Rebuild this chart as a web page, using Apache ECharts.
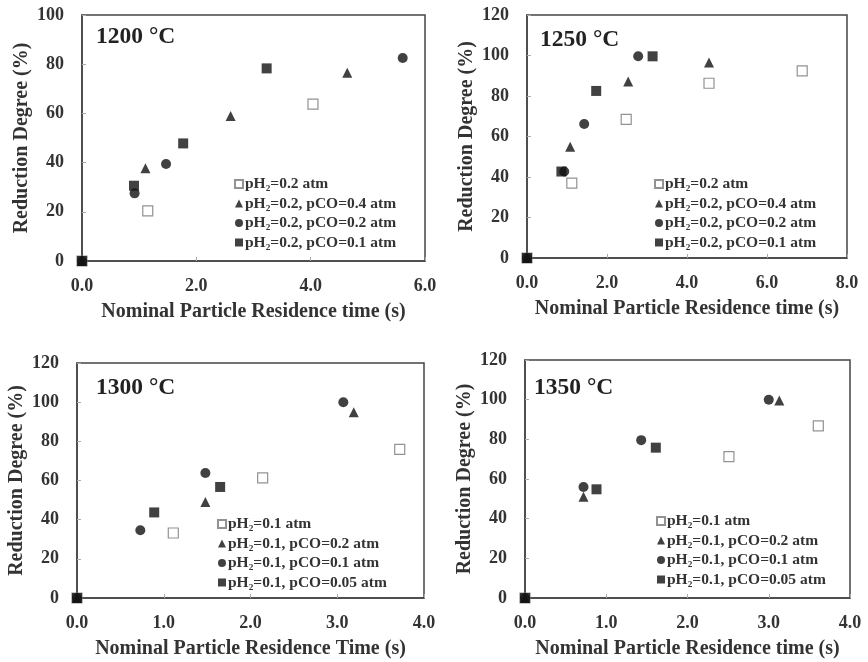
<!DOCTYPE html>
<html>
<head>
<meta charset="utf-8">
<script src="https://cdn.jsdelivr.net/npm/echarts@6/dist/echarts.min.js"></script>
<style>
  html, body { margin: 0; padding: 0; background: #fff; }
  #main { width: 868px; height: 662px; }
</style>
</head>
<body>
<div id="main"></div>
<script>
var chart = echarts.init(document.getElementById('main'));

// panel temperatures
const panelTitles = ['1200 °C', '1250 °C', '1300 °C', '1350 °C'];

// legend names
const namesTop = ['pH₂=0.2 atm', 'pH₂=0.2, pCO=0.4 atm', 'pH₂=0.2, pCO=0.2 atm', 'pH₂=0.2, pCO=0.1 atm'];
const namesBottom = ['pH₂=0.1 atm', 'pH₂=0.1, pCO=0.2 atm', 'pH₂=0.1, pCO=0.1 atm', 'pH₂=0.1, pCO=0.05 atm'];

// 1200 C  [time (s), reduction degree (%)]
const h2_1200 = [[0, 0], [1.15, 20.4], [4.04, 63.8]];
const co04_1200 = [[0, 0], [1.11, 37.7], [2.6, 58.9], [4.64, 76.5]];
const co02_1200 = [[0, 0], [0.92, 27.5], [1.47, 39.4], [5.61, 82.5]];
const co01_1200 = [[0, 0], [0.91, 30.6], [1.77, 47.8], [3.23, 78.3]];

// 1250 C
const h2_1250 = [[0, 0], [1.12, 37], [2.48, 68.5], [4.55, 86.3], [6.88, 92.4]];
const co04_1250 = [[0, 0], [1.08, 55], [2.53, 87.1], [4.55, 96.6]];
const co02_1250 = [[0, 0], [0.93, 42.7], [1.43, 66.2], [2.78, 99.6]];
const co01_1250 = [[0, 0], [0.86, 42.7], [1.73, 82.5], [3.14, 99.6]];

// 1300 C
const h2_1300 = [[0, 0], [1.11, 33.2], [2.14, 61.3], [3.72, 75.9]];
const co02_1300 = [[0, 0], [1.48, 49], [3.19, 94.8]];
const co01_1300 = [[0, 0], [0.73, 34.6], [1.48, 63.8], [3.07, 100]];
const co005_1300 = [[0, 0], [0.89, 43.7], [1.65, 56.7]];

// 1350 C
const h2_1350 = [[0, 0], [2.51, 71.3], [3.61, 86.8]];
const co02_1350 = [[0, 0], [0.72, 51], [3.13, 99.6]];
const co01_1350 = [[0, 0], [0.72, 56], [1.43, 79.6], [3.0, 100]];
const co005_1350 = [[0, 0], [0.88, 54.8], [1.61, 75.8]];

const xMax = [6, 8, 4, 4];
const xStep = [2, 2, 1, 1];
const yMax = [100, 120, 120, 120];
const xNames = ['Nominal Particle Residence time (s)', 'Nominal Particle Residence time (s)',
  'Nominal Particle Residence Time (s)', 'Nominal Particle Residence time (s)'];

const FONT = "'Liberation Serif', 'Times New Roman', serif";
const grids = [
  { left: 82, top: 15, width: 343, height: 246 },
  { left: 527, top: 15, width: 320, height: 243 },
  { left: 77, top: 363, width: 347, height: 235 },
  { left: 525, top: 360, width: 325, height: 238 }
];

const xAxes = grids.map(function (g, i) {
  return {
    gridIndex: i, type: 'value', min: 0, max: xMax[i], interval: xStep[i],
    name: xNames[i], nameLocation: 'middle', nameGap: 41,
    nameTextStyle: { fontFamily: FONT, fontWeight: 'bold', fontSize: 20, color: '#333' },
    axisLine: { lineStyle: { color: '#444', width: 1.5 } },
    axisTick: { inside: true, length: 4, lineStyle: { color: '#aaa' } },
    axisLabel: { margin: 16, fontFamily: FONT, fontWeight: 'bold', fontSize: 18, color: '#333',
      formatter: function (v) { return v.toFixed(1); } },
    splitLine: { show: false }
  };
});

const yAxes = grids.map(function (g, i) {
  return {
    gridIndex: i, type: 'value', min: 0, max: yMax[i], interval: 20,
    name: 'Reduction Degree (%)', nameLocation: 'middle', nameGap: 50, nameRotate: 90,
    nameTextStyle: { fontFamily: FONT, fontWeight: 'bold', fontSize: 20, color: '#333' },
    axisLine: { lineStyle: { color: '#444', width: 1.5 } },
    axisTick: { inside: true, length: 4, lineStyle: { color: '#aaa' } },
    axisLabel: { margin: 18, fontFamily: FONT, fontWeight: 'bold', fontSize: 18, color: '#333' },
    splitLine: { show: false }
  };
});

const openStyle = { symbol: 'rect', symbolSize: 10, itemStyle: { color: '#fff', borderColor: '#777', borderWidth: 1.2 } };
const triStyle = { symbol: 'triangle', symbolSize: 10, itemStyle: { color: '#111' } };
const cirStyle = { symbol: 'circle', symbolSize: 10, itemStyle: { color: '#111' } };
const sqStyle = { symbol: 'rect', symbolSize: 10, itemStyle: { color: '#111' } };
const styles = [openStyle, triStyle, cirStyle, sqStyle];

const panelData = [
  [h2_1200, co04_1200, co02_1200, co01_1200],
  [h2_1250, co04_1250, co02_1250, co01_1250],
  [h2_1300, co02_1300, co01_1300, co005_1300],
  [h2_1350, co02_1350, co01_1350, co005_1350]
];

const series = [];
panelData.forEach(function (sets, p) {
  const names = p < 2 ? namesTop : namesBottom;
  sets.forEach(function (d, k) {
    series.push(Object.assign({
      type: 'scatter', name: names[k], xAxisIndex: p, yAxisIndex: p, data: d, z: 2 + k
    }, styles[k]));
  });
});

const legendPos = [
  { left: 229, top: 171 },
  { left: 649, top: 171 },
  { left: 212, top: 511 },
  { left: 651, top: 508 }
];

const legends = legendPos.map(function (pos, p) {
  return {
    orient: 'vertical', left: pos.left, top: pos.top,
    data: p < 2 ? namesTop : namesBottom,
    itemWidth: 8, itemHeight: 8, itemGap: 3.5,
    selectedMode: false,
    textStyle: { fontFamily: FONT, fontWeight: 'bold', fontSize: 15.5, color: '#333', padding: [0, 0, 0, -3] }
  };
});

const titlePos = [
  { left: 96, top: 25 },
  { left: 540, top: 28 },
  { left: 96, top: 376 },
  { left: 534, top: 376 }
];

const titles = titlePos.map(function (pos, p) {
  return {
    text: panelTitles[p], left: pos.left, top: pos.top, padding: 0,
    textStyle: { fontFamily: FONT, fontWeight: 'bold', fontSize: 23.5, color: '#222' }
  };
});

chart.setOption({
  backgroundColor: '#fff',
  animation: false,
  title: titles,
  legend: legends,
  grid: grids.map(function (g) {
    return Object.assign({ show: true, borderColor: '#444', borderWidth: 1.5, backgroundColor: 'transparent' }, g);
  }),
  xAxis: xAxes,
  yAxis: yAxes,
  series: series
});
</script>
</body>
</html>
